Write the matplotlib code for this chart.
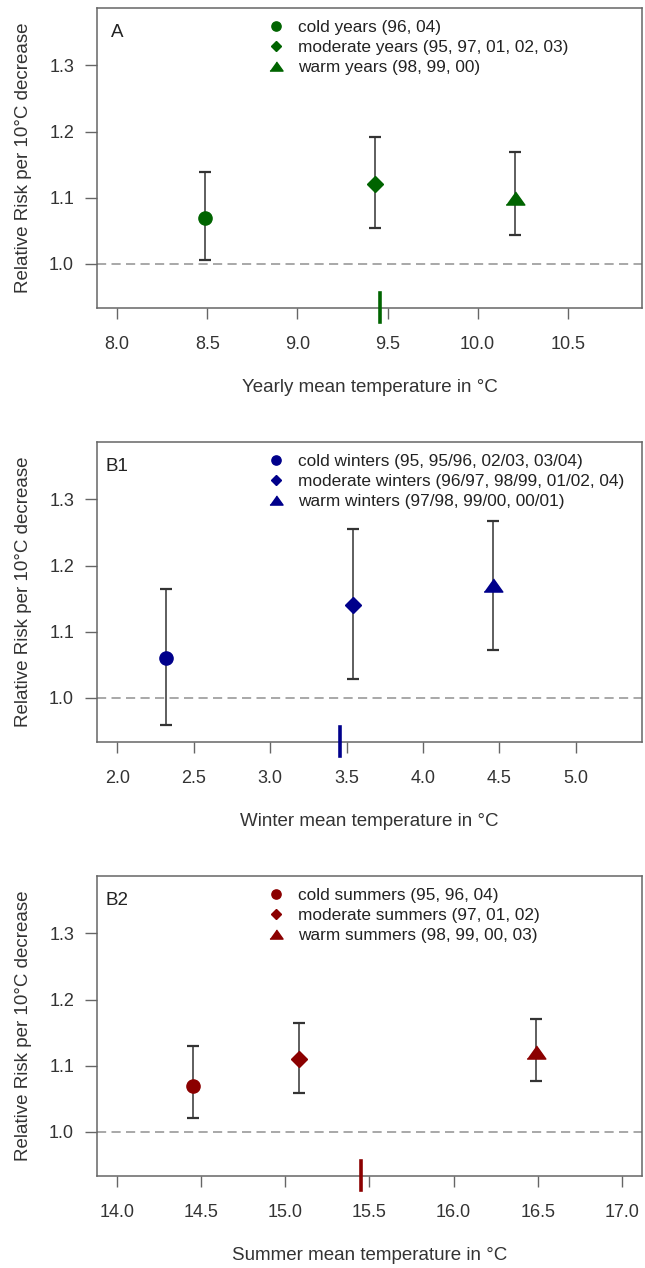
import matplotlib
matplotlib.use('Agg')
import matplotlib.pyplot as plt
from matplotlib.lines import Line2D

plt.rcParams['font.family'] = ['Liberation Sans', 'DejaVu Sans']

# ---- data ---------------------------------------------------------------
a_temp = [8.49, 9.43, 10.21]
a_rr = [1.07, 1.12, 1.10]
a_lo = [1.006, 1.054, 1.043]
a_hi = [1.139, 1.191, 1.169]
a_mean = 9.46
a_labels = ['cold years (96, 04)',
            'moderate years (95, 97, 01, 02, 03)',
            'warm years (98, 99, 00)']
a_xticks = [8.0, 8.5, 9.0, 9.5, 10.0, 10.5]

b1_temp = [2.32, 3.54, 4.455]
b1_rr = [1.06, 1.14, 1.17]
b1_lo = [0.959, 1.028, 1.073]
b1_hi = [1.164, 1.256, 1.267]
b1_mean = 3.46
b1_labels = ['cold winters (95, 95/96, 02/03, 03/04)',
             'moderate winters (96/97, 98/99, 01/02, 04)',
             'warm winters (97/98, 99/00, 00/01)']
b1_xticks = [2.0, 2.5, 3.0, 3.5, 4.0, 4.5, 5.0]

b2_temp = [14.45, 15.08, 16.49]
b2_rr = [1.07, 1.11, 1.12]
b2_lo = [1.021, 1.059, 1.077]
b2_hi = [1.130, 1.164, 1.171]
b2_mean = 15.45
b2_labels = ['cold summers (95, 96, 04)',
             'moderate summers (97, 01, 02)',
             'warm summers (98, 99, 00, 03)']
b2_xticks = [14.0, 14.5, 15.0, 15.5, 16.0, 16.5, 17.0]

yticks = [1.0, 1.1, 1.2, 1.3]
ylabel = 'Relative Risk per 10\u00b0C decrease'

# triangle a bit wider than tall, like R's pch 17
TRI = [(-1, -0.7), (1, -0.7), (0, 0.7)]
markers = ['o', 'D', TRI]
msizes = [9.5, 8.0, 13.5]

FRAME = '#666666'
LABEL = '#333333'


def r_lim(a, b):
    # R style 4% axis extension
    d = (b - a) * 0.04
    return a - d, b + d


def panel(ax, tag, temp, rr, lo, hi, mean_t, labels, color, xlim, xticks, xlabel):
    ax.axhline(1.0, color='#9a9a9a', lw=1.2, linestyle=(0, (5.5, 3.2)), zorder=1)
    for i in range(len(temp)):
        ax.errorbar([temp[i]], [rr[i]],
                    yerr=[[rr[i] - lo[i]], [hi[i] - rr[i]]],
                    fmt='none', ecolor='#333333', elinewidth=1.1,
                    capsize=4.3, capthick=1.6, zorder=2)
        ax.plot([temp[i]], [rr[i]], linestyle='none', marker=markers[i],
                markersize=msizes[i], color=color, zorder=3)
    # mean temperature of the period, drawn as a short rug mark
    ax.axvline(mean_t, ymin=-0.046, ymax=0.05, color=color, lw=2.6,
               clip_on=False, zorder=4)

    ax.set_xlim(*r_lim(*xlim))
    ax.set_ylim(*r_lim(0.95, 1.37))
    ax.set_xticks(xticks)
    ax.set_xticklabels([f'{t:.1f}' for t in xticks])
    ax.set_yticks(yticks)
    ax.set_yticklabels([f'{t:.1f}' for t in yticks])
    ax.tick_params(axis='x', length=8, width=1, color=FRAME, pad=12.5,
                   labelsize=13, labelcolor=LABEL)
    ax.tick_params(axis='y', length=8.5, width=1, color=FRAME, pad=8,
                   labelsize=13, labelcolor=LABEL)
    for s in ax.spines.values():
        s.set_color(FRAME)
        s.set_linewidth(1.1)

    ax.text(0.5, -0.265, xlabel, transform=ax.transAxes, ha='center',
            va='center', fontsize=13.5, color=LABEL)
    ax.text(-0.135, 0.5, ylabel, transform=ax.transAxes, ha='center',
            va='center', rotation=90, fontsize=13.5, color=LABEL)
    ax.text(0.037, 0.917, tag, transform=ax.transAxes, ha='center',
            va='center', fontsize=13.5, color='#222222')

    handles = [Line2D([], [], linestyle='none', marker=markers[i],
                      markersize=msizes[i] * 0.7, color=color)
               for i in range(len(labels))]
    ax.legend(handles, labels, loc='upper left', bbox_to_anchor=(0.291, 1.0),
              frameon=False, fontsize=12.4, handlelength=1.0, handletextpad=0.75,
              labelspacing=0.29, borderaxespad=0.3, labelcolor='#222222')


fig = plt.figure(figsize=(6.45, 12.68), dpi=100)
left, width, height = 97 / 645, 545 / 645, 300 / 1268
ax_a = fig.add_axes([left, 1 - 308 / 1268, width, height])
ax_b1 = fig.add_axes([left, 1 - 742 / 1268, width, height])
ax_b2 = fig.add_axes([left, 1 - 1176 / 1268, width, height])

panel(ax_a, 'A', a_temp, a_rr, a_lo, a_hi, a_mean, a_labels, '#006400',
      (8.0, 10.8), a_xticks, 'Yearly mean temperature in \u00b0C')
panel(ax_b1, 'B1', b1_temp, b1_rr, b1_lo, b1_hi, b1_mean, b1_labels, '#00008B',
      (2.0, 5.3), b1_xticks, 'Winter mean temperature in \u00b0C')
panel(ax_b2, 'B2', b2_temp, b2_rr, b2_lo, b2_hi, b2_mean, b2_labels, '#8B0000',
      (14.0, 17.0), b2_xticks, 'Summer mean temperature in \u00b0C')

fig.savefig('out.png', dpi=100, facecolor='white')
